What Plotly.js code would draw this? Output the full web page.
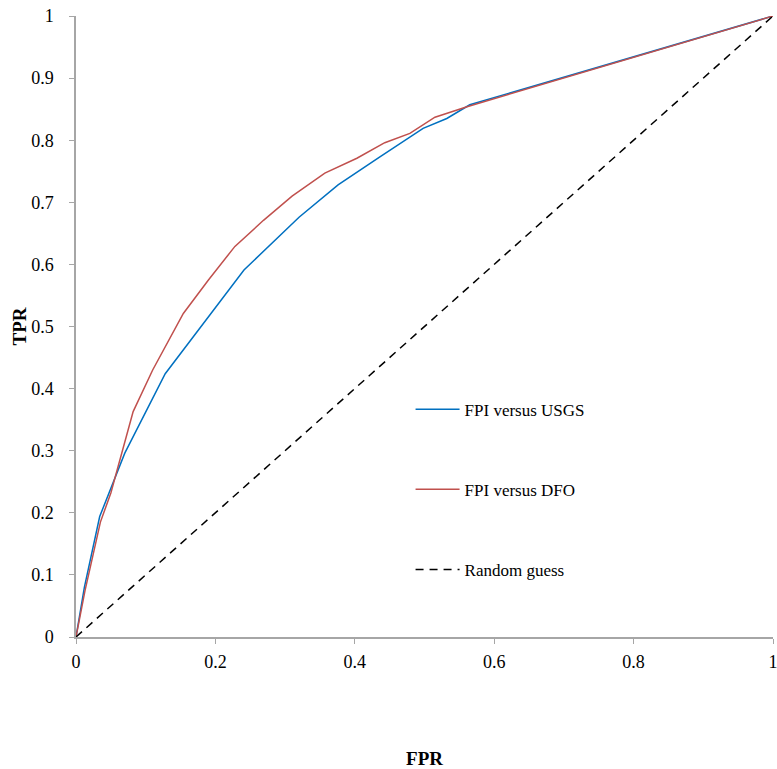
<!DOCTYPE html>
<html>
<head>
<meta charset="utf-8">
<script src="https://cdn.plot.ly/plotly-3.0.1.min.js"></script>
<style>body{margin:0;padding:0;background:#fff;} #chart{width:777px;height:769px;}</style>
</head>
<body>
<div id="chart"></div>
<script>
const usgsFPR = [0, 0.012, 0.034, 0.070, 0.128, 0.200, 0.241, 0.320, 0.376, 0.436, 0.498, 0.532, 0.565, 1];
const usgsTPR = [0, 0.080, 0.194, 0.296, 0.424, 0.530, 0.591, 0.676, 0.728, 0.773, 0.819, 0.835, 0.857, 1];
const dfoFPR = [0, 0.013, 0.035, 0.050, 0.082, 0.110, 0.154, 0.190, 0.228, 0.269, 0.310, 0.357, 0.403, 0.443, 0.479, 0.515, 0.561, 1];
const dfoTPR = [0, 0.075, 0.185, 0.232, 0.363, 0.430, 0.521, 0.575, 0.629, 0.671, 0.710, 0.747, 0.771, 0.796, 0.811, 0.837, 0.854, 1];
const randFPR = [0, 1];
const randTPR = [0, 1];
const tickVals = [0, 0.1, 0.2, 0.3, 0.4, 0.5, 0.6, 0.7, 0.8, 0.9, 1];
const tickText = ['0', '0.1', '0.2', '0.3', '0.4', '0.5', '0.6', '0.7', '0.8', '0.9', '1'];
const xTickVals = [0, 0.2, 0.4, 0.6, 0.8, 1];
const xTickText = ['0', '0.2', '0.4', '0.6', '0.8', '1'];

const serif = 'Liberation Serif';
const traces = [
  {x: usgsFPR, y: usgsTPR, mode: 'lines', name: 'FPI versus USGS', legendgroup: 'a',
   line: {color: '#0070C0', width: 1.5}},
  {x: dfoFPR, y: dfoTPR, mode: 'lines', name: 'FPI versus DFO', legendgroup: 'b',
   line: {color: '#C0504D', width: 1.5}},
  {x: randFPR, y: randTPR, mode: 'lines', name: 'Random guess', legendgroup: 'c',
   line: {color: '#000000', width: 1.5, dash: '8px,6px'}}
];
const layout = {
  width: 777, height: 769,
  margin: {l: 76, r: 4, t: 16, b: 132},
  paper_bgcolor: '#fff', plot_bgcolor: '#fff',
  font: {family: serif, size: 17, color: '#000'},
  showlegend: true,
  legend: {x: 0.48, y: 0.395, xanchor: 'left', yanchor: 'top', traceorder: 'grouped',
           tracegroupgap: 55, itemwidth: 44, font: {family: serif, size: 17, color: '#000'}, bgcolor: 'rgba(0,0,0,0)'},
  xaxis: {range: [0, 1], tickvals: xTickVals, ticktext: xTickText, showgrid: false, zeroline: false,
          showline: true, linecolor: '#A6A6A6', linewidth: 1.5, ticks: 'outside', ticklen: 5, tickcolor: '#A6A6A6',
          ticklabelstandoff: 3, ticklabeloverflow: 'allow',
          tickfont: {family: serif, size: 18, color: '#000'},
          title: {text: '<b>FPR</b>', font: {family: serif, size: 19}, standoff: 82}},
  yaxis: {range: [0, 1], tickvals: tickVals, ticktext: tickText, showgrid: false, zeroline: false,
          showline: true, linecolor: '#A6A6A6', linewidth: 1.5, ticks: 'outside', ticklen: 5, tickcolor: '#A6A6A6',
          ticklabelstandoff: 12, ticklabeloverflow: 'allow',
          tickfont: {family: serif, size: 18, color: '#000'},
          title: {text: '<b>TPR</b>', font: {family: serif, size: 19}, standoff: 0}}
};
Plotly.newPlot('chart', traces, layout, {displayModeBar: false});
</script>
</body>
</html>
